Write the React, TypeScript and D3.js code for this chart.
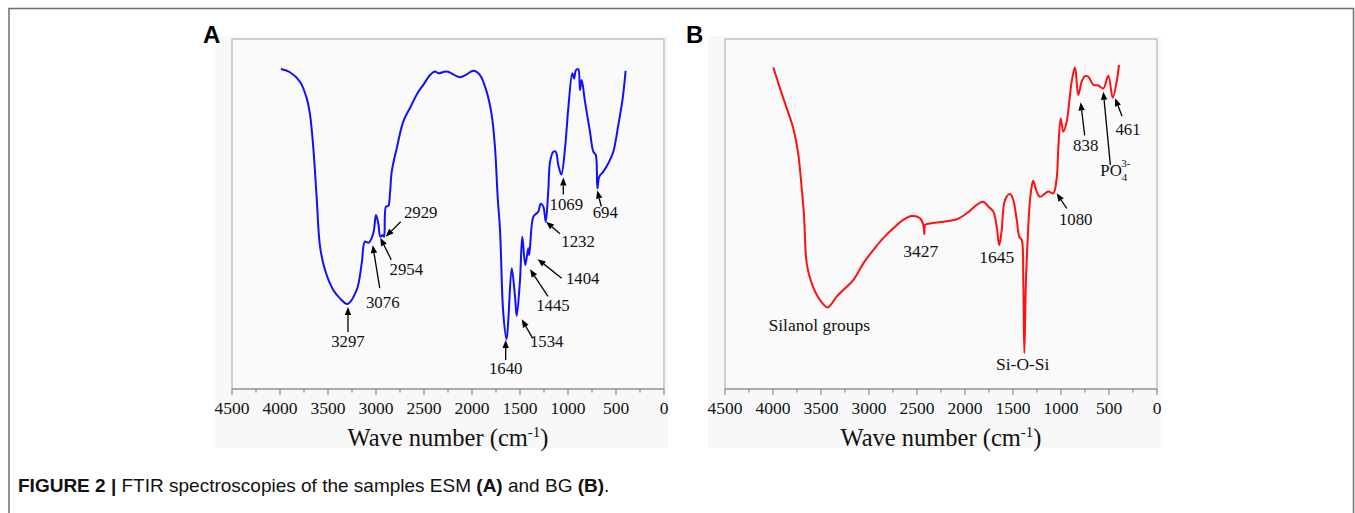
import React from "react";
import * as d3 from "d3";

// ---------- DATA ----------
// Panel A (ESM): [wavenumber cm-1, relative transmittance]
const esmWave = [3990, 3896, 3792, 3722, 3687, 3653, 3618, 3583, 3531, 3445, 3375, 3297, 3201, 3149, 3115, 3076, 3028, 3000, 2976, 2954, 2930, 2916, 2896, 2872, 2854, 2836, 2784, 2716, 2646, 2559, 2507, 2437, 2385, 2351, 2264, 2125, 2055, 1986, 1917, 1847, 1795, 1760, 1732, 1708, 1674, 1640, 1622, 1586, 1552, 1534, 1500, 1476, 1445, 1414, 1404, 1361, 1326, 1309, 1284, 1257, 1232, 1205, 1187, 1153, 1128, 1101, 1069, 1031, 997, 955, 937, 917, 893, 875, 857, 823, 771, 736, 711, 694, 674, 632, 580, 528, 476, 430, 400];
const esmTrans = [91.4, 90.5, 87.8, 83.1, 78.3, 68.9, 54.6, 40.7, 34.0, 28.3, 25.9, 24.3, 28.3, 35.9, 42.1, 41.8, 44.5, 49.7, 47.3, 43.5, 44.0, 43.5, 52.1, 52.3, 56.0, 62.1, 68.8, 76.4, 80.3, 84.9, 86.9, 89.7, 90.7, 90.2, 90.7, 89.1, 89.9, 90.9, 89.7, 84.9, 78.3, 68.8, 54.6, 45.4, 21.6, 14.2, 19.7, 34.5, 26.4, 20.9, 31.1, 43.5, 35.4, 40.2, 38.3, 49.2, 50.2, 50.7, 52.9, 52.1, 47.8, 56.9, 64.9, 67.8, 67.8, 64.0, 61.3, 68.8, 80.2, 90.2, 88.7, 91.1, 91.4, 85.4, 88.3, 82.1, 73.5, 67.8, 66.9, 57.3, 60.7, 62.1, 64.5, 67.8, 75.4, 83.1, 90.9];

// Panel B (BG)
const bgWave = [3997, 3927, 3857, 3789, 3736, 3701, 3677, 3649, 3597, 3510, 3430, 3337, 3268, 3164, 3059, 2955, 2851, 2747, 2643, 2555, 2469, 2434, 2424, 2414, 2365, 2226, 2086, 1982, 1878, 1809, 1757, 1705, 1670, 1643, 1618, 1583, 1531, 1497, 1461, 1434, 1409, 1393, 1382, 1365, 1347, 1323, 1295, 1289, 1253, 1219, 1132, 1080, 1045, 1028, 1003, 976, 941, 889, 854, 820, 784, 750, 715, 663, 611, 559, 507, 461, 420, 396];
const bgTrans = [91.9, 85.9, 80.2, 74.5, 66.9, 57.3, 49.7, 35.9, 30.2, 25.4, 23.3, 26.4, 28.3, 31.1, 35.9, 39.7, 43.1, 45.9, 48.3, 49.4, 48.8, 46.9, 44.3, 46.9, 47.3, 47.8, 48.5, 50.2, 52.6, 53.5, 52.1, 50.7, 46.4, 41.1, 45.4, 54.0, 55.7, 54.0, 48.3, 43.5, 42.6, 31.1, 10.2, 31.1, 42.6, 54.0, 59.2, 59.5, 56.4, 54.9, 56.4, 55.9, 60.2, 68.8, 77.3, 73.5, 76.4, 87.8, 91.9, 84.0, 87.8, 89.4, 89.2, 86.9, 86.7, 85.9, 89.5, 83.2, 87.8, 92.6];

const xTicks = [4500, 4000, 3500, 3000, 2500, 2000, 1500, 1000, 500, 0];
const xMinorTicks = [4250, 3750, 3250, 2750, 2250, 1750, 1250, 750, 250];

// Annotation labels: text, arrow target [wavenumber, transmittance]
const esmLabels = ["3297", "3076", "2954", "2929", "1640", "1534", "1445", "1404", "1232", "1069", "694"];
const esmTargets: [number, number][] = [[3292, 23.4], [3034, 41.1], [2955, 43.2], [2899, 43.5], [1649, 14.0], [1482, 19.9], [1396, 34.2], [1316, 37.1], [1229, 47.8], [1049, 60.4], [695, 56.7]];
const bgArrowLabels = ["1080", "838", "PO4", "461"];
const bgTargets: [number, number][] = [[1045, 55.9], [795, 81.9], [559, 84.9], [437, 83.1]];
const bgTextLabels = ["Silanol groups", "3427", "1645", "Si-O-Si"];
const bgTextAt: [number, number][] = [[3518, 16.7], [2461, 37.8], [1670, 36.1], [1399, 5.4]];

// ---------- LAYOUT (pixel offsets: [tailDx, tailDy, labelDx, labelDy]) ----------
const esmOffsets = [[0, 25, 0, 40], [7, 43, 10, 63], [11, 22, 26, 37], [15, -15, 35, -19], [0, 20, 0, 34], [11, 19, 25, 28], [18, 27, 23, 42], [24, 19, 45, 25], [14, 12, 32, 25], [0, 17, 3, 32], [4, 16, 8, 27]];
const bgOffsets = [[10, 15, 19, 32], [4, 33, 5, 49], [7, 73, 12, 84], [7, 18, 13, 37]];

const SERIF = "'Liberation Serif', 'Times New Roman', serif";
const SANS = "'Liberation Sans', Arial, sans-serif";

const top = 39, bottom = 389;
const y = d3.scaleLinear().domain([0, 100]).range([bottom, top]);

function Panel({ left, right, waves, trans, color, letter, letterX, children }: any) {
  const x = d3.scaleLinear().domain([4500, 0]).range([left, right]);
  const data = waves.map((w: number, i: number) => [w, trans[i]]);
  const line = d3.line<number[]>().x((d) => x(d[0])).y((d) => y(d[1])).curve(d3.curveCatmullRom.alpha(0.5));
  const cx = (left + right) / 2;
  return (
    <g>
      <rect x={left - 17} y={36} width={right - left + 21} height={412} fill="#f8f8f8" />
      <rect x={left} y={top} width={right - left} height={bottom - top} fill="#fafafa" stroke="#a8a8a8" strokeWidth={1} />
      <line x1={left} x2={right} y1={bottom} y2={bottom} stroke="#888" strokeWidth={1.2} />
      {xTicks.map((t) => (
        <g key={t}>
          <line x1={x(t)} x2={x(t)} y1={bottom} y2={bottom + 6} stroke="#888" strokeWidth={1.2} />
          <text x={x(t)} y={414} textAnchor="middle" fontFamily={SERIF} fontSize={17.5} fill="#111">{t}</text>
        </g>
      ))}
      {xMinorTicks.map((t) => (
        <line key={t} x1={x(t)} x2={x(t)} y1={bottom} y2={bottom + 3.5} stroke="#888" strokeWidth={1.2} />
      ))}
      <text x={cx} y={446} textAnchor="middle" fontFamily={SERIF} fontSize={24.5} fill="#111">
        Wave number (cm<tspan dy={-9} fontSize={15}>-1</tspan><tspan dy={9}>)</tspan>
      </text>
      <path d={line(data) as string} fill="none" stroke={color} strokeWidth={2} strokeLinejoin="round" />
      <text x={letterX} y={43} fontFamily={SANS} fontWeight="bold" fontSize={24} fill="#000">{letter}</text>
      {children(x)}
    </g>
  );
}

function Arrow({ x1, y1, x2, y2 }: any) {
  const ang = Math.atan2(y2 - y1, x2 - x1);
  const L = 8, W = 3.2;
  const bx = x2 - L * Math.cos(ang), by = y2 - L * Math.sin(ang);
  const px = -Math.sin(ang) * W, py = Math.cos(ang) * W;
  return (
    <g>
      <line x1={x1} y1={y1} x2={bx} y2={by} stroke="#000" strokeWidth={1.3} />
      <path d={`M${x2},${y2}L${bx + px},${by + py}L${bx - px},${by - py}Z`} fill="#000" />
    </g>
  );
}

export default function App() {
  return (
    <svg width={1355} height={513} style={{ position: "absolute", left: 0, top: 0, background: "#fff" }}>
      <rect x={9} y={8.5} width={1344.5} height={520} fill="#fff" stroke="#6e6e6e" strokeWidth={1.5} />
      <Panel left={232} right={664} waves={esmWave} trans={esmTrans} color="#1010ff" letter="A" letterX={203}>
        {(x: any) =>
          esmLabels.map((lab, i) => {
            const tx = x(esmTargets[i][0]), ty = y(esmTargets[i][1]);
            const o = esmOffsets[i];
            return (
              <g key={lab}>
                <Arrow x1={tx + o[0]} y1={ty + o[1]} x2={tx} y2={ty} />
                <text x={tx + o[2]} y={ty + o[3]} textAnchor="middle" fontFamily={SERIF} fontSize={16.8} fill="#111">{lab}</text>
              </g>
            );
          })
        }
      </Panel>
      <Panel left={725} right={1157} waves={bgWave} trans={bgTrans} color="#ff1010" letter="B" letterX={686}>
        {(x: any) => (
          <g>
            {bgTextLabels.map((lab, i) => (
              <text key={lab} x={x(bgTextAt[i][0])} y={y(bgTextAt[i][1])} textAnchor="middle" fontFamily={SERIF} fontSize={17.5} fill="#111">{lab}</text>
            ))}
            {bgArrowLabels.map((lab, i) => {
              const tx = x(bgTargets[i][0]), ty = y(bgTargets[i][1]);
              const o = bgOffsets[i];
              return (
                <g key={lab}>
                  <Arrow x1={tx + o[0]} y1={ty + o[1]} x2={tx} y2={ty} />
                  {lab === "PO4" ? (
                    <text x={tx + o[2] - 15} y={ty + o[3]} fontFamily={SERIF} fontSize={16.8} fill="#111">
                      PO
                      <tspan dy={5} fontSize={11}>4</tspan>
                      <tspan dx={-6} dy={-14} fontSize={11}>3-</tspan>
                    </text>
                  ) : (
                    <text x={tx + o[2]} y={ty + o[3]} textAnchor="middle" fontFamily={SERIF} fontSize={16.8} fill="#111">{lab}</text>
                  )}
                </g>
              );
            })}
          </g>
        )}
      </Panel>
      <text x={18} y={492} fontFamily={SANS} fontSize={19} fill="#111">
        <tspan fontWeight="bold">FIGURE 2 |</tspan> FTIR spectroscopies of the samples ESM <tspan fontWeight="bold">(A)</tspan> and BG <tspan fontWeight="bold">(B)</tspan>.
      </text>
    </svg>
  );
}
